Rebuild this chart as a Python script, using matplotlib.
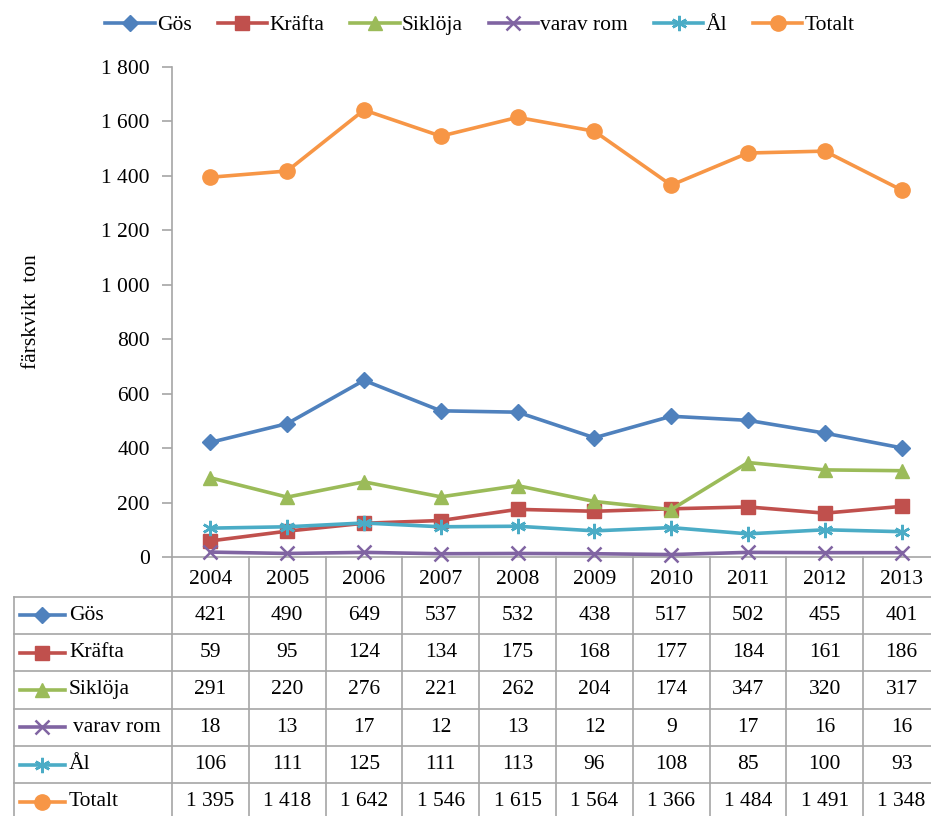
import numpy as np
import matplotlib
matplotlib.use("Agg")
import matplotlib.pyplot as plt
from matplotlib.ticker import FuncFormatter
from matplotlib.lines import Line2D
from matplotlib.font_manager import FontProperties

plt.rcParams['font.family'] = 'serif'
plt.rcParams['font.serif'] = ['Liberation Serif', 'DejaVu Serif']
plt.rcParams['font.size'] = 15
fp = FontProperties(family='Liberation Serif', size=15.5)

years = ['2004', '2005', '2006', '2007', '2008', '2009', '2010', '2011', '2012', '2013']
gos = [421, 490, 649, 537, 532, 438, 517, 502, 455, 401]
krafta = [59, 95, 124, 134, 175, 168, 177, 184, 161, 186]
sikloja = [291, 220, 276, 221, 262, 204, 174, 347, 320, 317]
varav_rom = [18, 13, 17, 12, 13, 12, 9, 17, 16, 16]
al = [106, 111, 125, 111, 113, 96, 108, 85, 100, 93]
totalt = [1395, 1418, 1642, 1546, 1615, 1564, 1366, 1484, 1491, 1348]

names = ['Gös', 'Kräfta', 'Siklöja', 'varav rom', 'Ål', 'Totalt']
series = [gos, krafta, sikloja, varav_rom, al, totalt]
colors = ['#4F81BD', '#C0504D', '#9BBB59', '#8064A2', '#4BACC6', '#F79646']
markers = ['D', 's', '^', 'x', (6, 2, 0), 'o']
msizes = [8, 10, 10, 10, 11, 11]

def mew(m):
    return 1.8 if m in ('x', (6, 2, 0)) else 1

def fmt(v):
    return f'{int(v):,}'.replace(',', ' ')

W, H = 931, 816
fig = plt.figure(figsize=(W / 100, H / 100), dpi=100)

# pixel layout
x_left, x_right = 172, 940
y_zero, y_top = 557, 67
grid_col = '#A6A6A6'

ax = fig.add_axes([x_left / W, 1 - y_zero / H, (x_right - x_left) / W, (y_zero - y_top) / H])
x = np.arange(len(years))
for name, vals, c, m, ms in zip(names, series, colors, markers, msizes):
    ax.plot(x, vals, color=c, lw=2.6, marker=m, ms=ms, mew=mew(m),
            mec=c, mfc=c, label=name, clip_on=False, zorder=3)

ax.set_xlim(-0.5, len(years) - 0.5)
ax.set_ylim(0, 1800)
ax.set_yticks(np.arange(0, 1801, 200))
ax.yaxis.set_major_formatter(FuncFormatter(lambda v, p: fmt(v)))
ax.set_xticks([])
for s in ['top', 'right']:
    ax.spines[s].set_visible(False)
for s in ['left', 'bottom']:
    ax.spines[s].set_color(grid_col)
    ax.spines[s].set_linewidth(1.2)
ax.tick_params(axis='y', length=7, color=grid_col, width=1.2, pad=9)
for lbl in ax.get_yticklabels():
    lbl.set_fontproperties(fp)
ax.set_ylabel('färskvikt  ton', fontproperties=fp)
ax.yaxis.set_label_coords(-0.170, 0.5)

# data table under the chart
hdr_h, row_h = 39.7, 37.3
tab_h = H - y_zero
tax = fig.add_axes([x_left / W, 0, (x_right - x_left) / W, tab_h / H])
tax.set_xlim(-0.5, len(years) - 0.5)
tax.set_ylim(tab_h, 0)
tax.axis('off')

def px(p):
    return -0.5 + (p - x_left) / 76.8

tab_left = px(14)
bottom = hdr_h + row_h * len(names)
lk = dict(color=grid_col, lw=1.2, clip_on=False)
for k in range(len(years) + 1):
    tax.plot([k - 0.5, k - 0.5], [0, bottom], **lk)
tax.plot([tab_left, tab_left], [hdr_h, bottom], **lk)
for r in range(len(names) + 1):
    yy = hdr_h + r * row_h
    tax.plot([tab_left, len(years) - 0.5], [yy, yy], **lk)

for i, yr in enumerate(years):
    tax.text(i, hdr_h / 2 + 3, yr, ha='center', va='center', fontproperties=fp)

for r, (name, vals, c, m, ms) in enumerate(zip(names, series, colors, markers, msizes)):
    yc = hdr_h + (r + 0.5) * row_h
    tax.plot([px(20), px(65)], [yc, yc], color=c, lw=2.6, clip_on=False)
    tax.plot([px(42)], [yc], color=c, marker=m, ms=ms, mew=mew(m),
             mec=c, mfc=c, clip_on=False)
    tax.text(px(69 if name != 'varav rom' else 73), yc, name, ha='left', va='center',
             fontproperties=fp)
    for i, v in enumerate(vals):
        tax.text(i, yc, fmt(v), ha='center', va='center', fontproperties=fp)

handles = [Line2D([0], [0], color=c, lw=2.6, marker=m, ms=ms, mec=c, mfc=c, mew=mew(m))
           for c, m, ms in zip(colors, markers, msizes)]
fig.legend(handles, names, loc='center', bbox_to_anchor=(480 / W, 1 - 25 / H), ncol=6,
           frameon=False, prop=fp, handlelength=2.3, columnspacing=1.2, handletextpad=0.1)

fig.savefig('out.png', dpi=100)
